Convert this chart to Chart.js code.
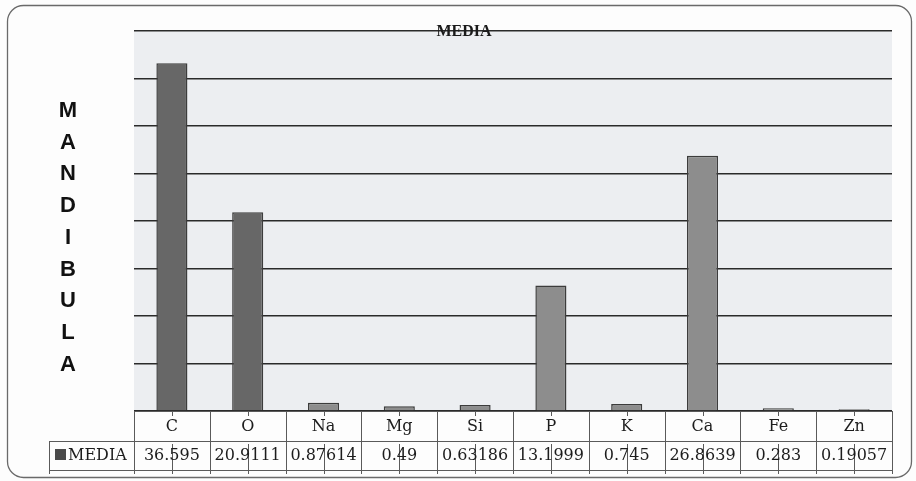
<!DOCTYPE html>
<html>
<head>
<meta charset="utf-8">
<script src="https://cdn.jsdelivr.net/npm/chart.js@4/dist/chart.umd.min.js"></script>
<style>
  html, body { margin: 0; padding: 0; background: #ffffff; }
  #wrap { width: 916px; height: 481px; }
</style>
</head>
<body>
<div id="wrap"><canvas id="c" width="916" height="481"></canvas></div>
<script>
// Element composition (mean values) of the mandible sample
const elements = ['C', 'O', 'Na', 'Mg', 'Si', 'P', 'K', 'Ca', 'Fe', 'Zn'];
const media = [36.595, 20.9111, 0.87614, 0.49, 0.63186, 13.1999, 0.745, 26.8639, 0.283, 0.19057];
const seriesName = 'MEDIA';
const chartTitle = 'MEDIA';
const sideTitle = 'MANDIBULA';
const yMin = 0;
const yMax = 40;
const yStep = 5;

// Bar shading: the first two elements print darker than the rest
const darkFill = '#676767';
const lightFill = '#8d8d8d';
const barColors = elements.map((_, i) => (i < 2 ? darkFill : lightFill));

const TABLE_ROW = 30;   // height of each data-table row
const LEGEND_LEFT = 49; // left edge of the series row
const TABLE_FONT = '16px "DejaVu Serif", serif';

const framePlugin = {
  id: 'frame',
  beforeDraw(chart) {
    const ctx = chart.ctx;
    const a = chart.chartArea;
    ctx.save();
    ctx.fillStyle = '#fdfdfd';
    ctx.fillRect(0, 0, chart.width, chart.height);
    // rounded outer border
    const x0 = 7.5, y0 = 5.5, x1 = 911.5, y1 = 477.5, r = 16;
    ctx.beginPath();
    ctx.moveTo(x0 + r, y0);
    ctx.lineTo(x1 - r, y0);
    ctx.arcTo(x1, y0, x1, y0 + r, r);
    ctx.lineTo(x1, y1 - r);
    ctx.arcTo(x1, y1, x1 - r, y1, r);
    ctx.lineTo(x0 + r, y1);
    ctx.arcTo(x0, y1, x0, y1 - r, r);
    ctx.lineTo(x0, y0 + r);
    ctx.arcTo(x0, y0, x0 + r, y0, r);
    ctx.closePath();
    ctx.strokeStyle = '#6a6a6a';
    ctx.lineWidth = 1.3;
    ctx.stroke();
    // plot area tint
    ctx.fillStyle = '#eceef1';
    ctx.fillRect(a.left, a.top, a.right - a.left, a.bottom - a.top);
    ctx.restore();
  },
  afterDraw(chart) {
    const ctx = chart.ctx;
    const a = chart.chartArea;
    const xs = chart.scales.x;
    ctx.save();

    // chart title sitting on the top gridline
    ctx.fillStyle = '#1a1a1a';
    ctx.font = 'bold 16px "Liberation Serif", serif';
    ctx.textAlign = 'center';
    ctx.textBaseline = 'middle';
    ctx.fillText(chartTitle, 464, a.top + 1);

    // vertical stacked side title
    ctx.font = 'bold 22px "Liberation Sans", Arial, sans-serif';
    ctx.fillStyle = '#111111';
    const letters = sideTitle.split('');
    const spacing = 31.7;
    const startY = 111;
    letters.forEach((ch, i) => {
      ctx.fillText(ch, 68, startY + i * spacing);
    });

    // data table under the plot
    const top = a.bottom;
    const mid = top + TABLE_ROW;
    const bot = mid + TABLE_ROW - 1;
    const step = xs.getPixelForValue(1) - xs.getPixelForValue(0);
    ctx.strokeStyle = '#5a5a5a';
    ctx.lineWidth = 1;
    ctx.beginPath();
    ctx.moveTo(a.left, top + 0.5); ctx.lineTo(a.right, top + 0.5);
    ctx.moveTo(LEGEND_LEFT, mid + 0.5); ctx.lineTo(a.right, mid + 0.5);
    ctx.moveTo(LEGEND_LEFT, bot + 0.5); ctx.lineTo(a.right, bot + 0.5);
    ctx.moveTo(LEGEND_LEFT + 0.5, mid); ctx.lineTo(LEGEND_LEFT + 0.5, bot + 4);
    for (let i = 0; i <= elements.length; i++) {
      const x = Math.round(xs.getPixelForValue(i) - step / 2) + 0.5;
      ctx.moveTo(x, top); ctx.lineTo(x, bot + 4);
    }
    // category tick marks crossing the table
    elements.forEach((_, i) => {
      const x = Math.round(xs.getPixelForValue(i)) + 0.5;
      ctx.moveTo(x, top); ctx.lineTo(x, top + 5);
      ctx.moveTo(x, mid + 3); ctx.lineTo(x, bot + 4);
    });
    ctx.stroke();

    ctx.fillStyle = '#1c1c1c';
    ctx.font = TABLE_FONT;
    ctx.textAlign = 'center';
    ctx.textBaseline = 'middle';
    elements.forEach((name, i) => {
      const x = xs.getPixelForValue(i);
      ctx.fillText(name, x, top + TABLE_ROW / 2 + 1);
      ctx.fillText(String(media[i]), x, mid + TABLE_ROW / 2);
    });

    // legend key + series name
    ctx.fillStyle = '#4a4a4a';
    ctx.fillRect(55, mid + 8, 11, 11);
    ctx.fillStyle = '#1c1c1c';
    ctx.textAlign = 'left';
    ctx.fillText(seriesName, 68, mid + TABLE_ROW / 2);
    ctx.restore();
  }
};

new Chart(document.getElementById('c'), {
  type: 'bar',
  data: {
    labels: elements,
    datasets: [{
      label: seriesName,
      data: media,
      backgroundColor: barColors,
      borderColor: '#3c3c3c',
      borderWidth: 1.5,
      barPercentage: 0.41,
      categoryPercentage: 1.0
    }]
  },
  options: {
    responsive: false,
    devicePixelRatio: 1,
    animation: false,
    layout: { padding: { left: 134, right: 24, top: 31, bottom: 70 } },
    plugins: {
      legend: { display: false },
      title: { display: false },
      tooltip: { enabled: false }
    },
    scales: {
      x: { display: false },
      y: {
        min: yMin,
        max: yMax,
        ticks: { display: false, stepSize: yStep },
        border: { display: false },
        grid: { color: '#2a2a2a', lineWidth: 1.6, drawTicks: false },
        afterFit(scale) { scale.width = 0; }
      }
    }
  },
  plugins: [framePlugin]
});
</script>
</body>
</html>
